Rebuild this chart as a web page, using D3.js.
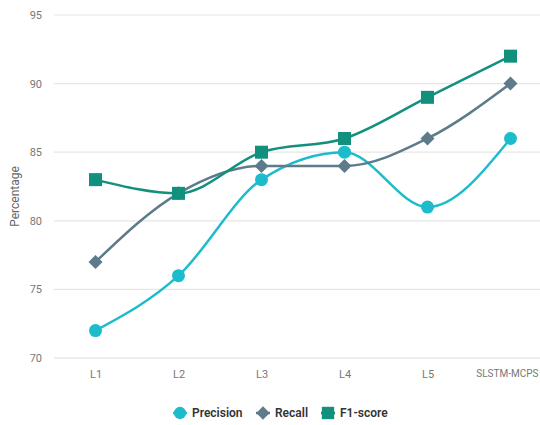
<!DOCTYPE html>
<html>
<head>
<meta charset="utf-8">
<script src="https://cdn.jsdelivr.net/npm/d3@7"></script>
<style>
  html, body { margin: 0; padding: 0; background: #fff; }
  svg { display: block; font-family: Roboto, "Noto Sans", sans-serif; }
</style>
</head>
<body>
<svg id="chart" width="540" height="425"></svg>
<script>
// Model comparison: precision / recall / F1 per layer configuration
const categories = ["L1", "L2", "L3", "L4", "L5", "SLSTM-MCPS"];
const precision = [72, 76, 83, 85, 81, 86];
const recall = [77, 82, 84, 84, 86, 90];
const f1score = [83, 82, 85, 86, 89, 92];
const yTicks = [70, 75, 80, 85, 90, 95];

const series = [
  { name: "Precision", values: precision, color: "#1cbccc", shape: "circle" },
  { name: "Recall", values: recall, color: "#5d7b8a", shape: "diamond" },
  { name: "F1-score", values: f1score, color: "#12907e", shape: "square" }
];

const svg = d3.select("#chart");
const margin = { left: 54, right: -12, top: 15, bottom: 67 };
const W = 540, H = 425;

const x = d3.scalePoint().domain(categories)
  .range([margin.left, W - margin.right]).padding(0.5);
const y = d3.scaleLinear().domain([70, 95])
  .range([H - margin.bottom, margin.top]);

// horizontal grid
svg.append("g").selectAll("line").data(yTicks).join("line")
  .attr("x1", margin.left).attr("x2", W)
  .attr("y1", d => y(d)).attr("y2", d => y(d))
  .attr("stroke", d => d === 70 ? "#d6dce6" : "#e6e6e6")
  .attr("stroke-width", 1.2);

// y axis labels
const yAxis = svg.append("g")
  .attr("transform", `translate(${margin.left - 12},0)`)
  .call(d3.axisLeft(y).tickValues(yTicks).tickSize(0).tickPadding(0));
yAxis.select(".domain").remove();
yAxis.selectAll("text").attr("fill", "#777").attr("font-size", 11)
  .attr("font-family", "Roboto, sans-serif");

// x axis labels
const xAxis = svg.append("g")
  .attr("transform", `translate(0,${y(70) + 12})`)
  .call(d3.axisBottom(x).tickSize(0).tickPadding(0));
xAxis.select(".domain").remove();
xAxis.selectAll("text").attr("fill", "#777").attr("font-size", 11)
  .attr("dy", "0.71em").attr("font-family", "Roboto, sans-serif");
// the long last label is right-aligned to stay inside the frame
xAxis.selectAll("text").filter(d => d === "SLSTM-MCPS")
  .attr("font-size", 10)
  .attr("text-anchor", "end").attr("x", W - 2 - x("SLSTM-MCPS"));

// y title
svg.append("text")
  .attr("transform", `translate(19,${(y(70) + y(95)) / 2 + 10}) rotate(-90)`)
  .attr("text-anchor", "middle")
  .attr("fill", "#666").attr("font-size", 12)
  .text("Percentage");

const line = d3.line()
  .x((d, i) => x(categories[i]))
  .y(d => y(d))
  .curve(d3.curveMonotoneX);

function drawMarker(g, shape, color, cx, cy, s) {
  if (shape === "circle") {
    g.append("circle").attr("cx", cx).attr("cy", cy).attr("r", 6.5 * s).attr("fill", color);
  } else if (shape === "diamond") {
    const r = 7 * s;
    g.append("path")
      .attr("d", `M${cx},${cy - r}L${cx + r},${cy}L${cx},${cy + r}L${cx - r},${cy}Z`)
      .attr("fill", color);
  } else {
    const h = 6.5 * s;
    g.append("rect").attr("x", cx - h).attr("y", cy - h)
      .attr("width", 2 * h).attr("height", 2 * h).attr("fill", color);
  }
}

series.forEach(s => {
  const g = svg.append("g");
  g.append("path").datum(s.values)
    .attr("d", line).attr("fill", "none")
    .attr("stroke", s.color).attr("stroke-width", 2.5);
  s.values.forEach((v, i) => drawMarker(g, s.shape, s.color, x(categories[i]), y(v), 1));
});

// legend
const legendItems = [
  { x: 180 }, { x: 263 }, { x: 328 }
];
const lg = svg.append("g");
series.forEach((s, i) => {
  const cx = legendItems[i].x, cy = 413;
  lg.append("line").attr("x1", cx - 7).attr("x2", cx + 7)
    .attr("y1", cy).attr("y2", cy).attr("stroke", s.color).attr("stroke-width", 2.5);
  drawMarker(lg, s.shape, s.color, cx, cy, 0.95);
  lg.append("text").attr("x", cx + 12).attr("y", cy).attr("dy", "0.35em")
    .attr("font-size", 12).attr("font-weight", 600).attr("fill", "#333")
    .text(s.name);
});
</script>
</body>
</html>
